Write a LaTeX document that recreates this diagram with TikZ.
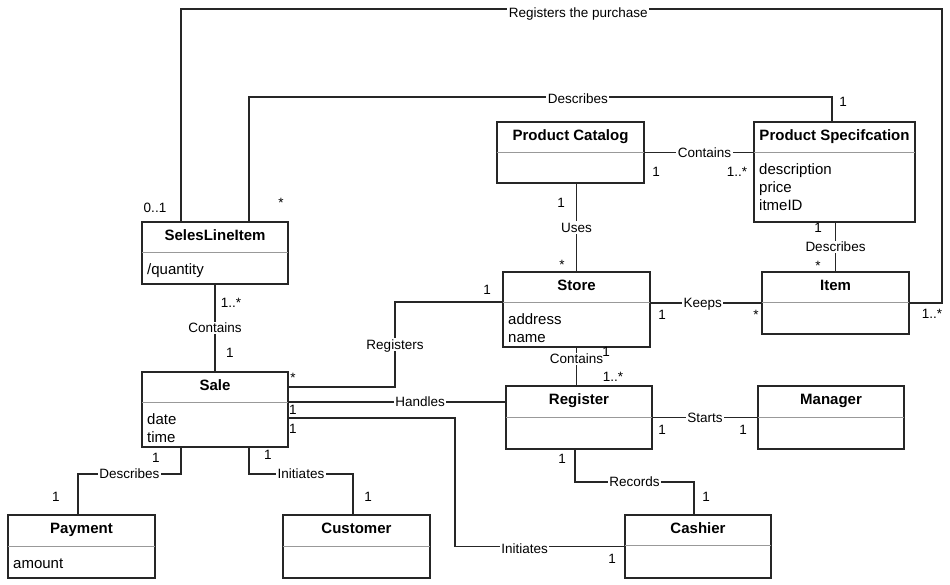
\documentclass[tikz,border=0pt]{standalone}
\usepackage{fontspec}
\setmainfont{Liberation Sans}
\begin{document}
\begin{tikzpicture}[x=1pt,y=-1pt,
  cls/.style={draw=black!85, line width=1.5pt, fill=white, inner sep=0pt, outer sep=0pt},
  ttl/.style={font=\fontsize{15}{18}\selectfont\bfseries, text height=10.7pt, text depth=0pt, inner sep=0pt},
  attr/.style={font=\fontsize{15}{18}\selectfont, anchor=west, text height=10.7pt, text depth=0pt, inner sep=0pt},
  divl/.style={draw=black!40, line width=1pt},
  conn/.style={draw=black!85, line width=1.3pt},
  lbl/.style={font=\fontsize{13.5}{16}\selectfont, fill=white, text height=9.7pt, text depth=0pt, inner sep=1.5pt},
  mult/.style={font=\fontsize{13.5}{16}\selectfont, text height=9.7pt, text depth=0pt, inner sep=0pt}]
\useasboundingbox (0,0) rectangle (950,584);
\fill[white] (0,0) rectangle (950,584);

% ---------- classes ----------
\node[cls, minimum width=146pt, minimum height=62pt] (sli) at (215,253) {};
\node[ttl] (sli-t) at (215,235.5) {SelesLineItem};
\draw[divl] ([yshift=-30pt]sli.north west) -- ([yshift=-30pt]sli.north east);
\node[attr] (sli-a1) at (147,269) {/quantity};

\node[cls, minimum width=147pt, minimum height=61pt] (pc) at (570.5,152.5) {};
\node[ttl] (pc-t) at (570.5,135.5) {Product Catalog};
\draw[divl] ([yshift=-30pt]pc.north west) -- ([yshift=-30pt]pc.north east);

\node[cls, minimum width=161pt, minimum height=100pt] (ps) at (834.5,172) {};
\node[ttl] (ps-t) at (834.5,135.5) {Product Specifcation};
\draw[divl] ([yshift=-30pt]ps.north west) -- ([yshift=-30pt]ps.north east);
\node[attr] (ps-a1) at (759,169) {description};
\node[attr] (ps-a2) at (759,187) {price};
\node[attr] (ps-a3) at (759,205) {itmeID};

\node[cls, minimum width=147pt, minimum height=75pt] (store) at (576.5,309.5) {};
\node[ttl] (store-t) at (576.5,285.5) {Store};
\draw[divl] ([yshift=-30pt]store.north west) -- ([yshift=-30pt]store.north east);
\node[attr] (store-a1) at (508,319) {address};
\node[attr] (store-a2) at (508,337) {name};

\node[cls, minimum width=147pt, minimum height=62pt] (item) at (835.5,303) {};
\node[ttl] (item-t) at (835.5,285.5) {Item};
\draw[divl] ([yshift=-30pt]item.north west) -- ([yshift=-30pt]item.north east);

\node[cls, minimum width=146pt, minimum height=75pt] (sale) at (215,409.5) {};
\node[ttl] (sale-t) at (215,385.5) {Sale};
\draw[divl] ([yshift=-30pt]sale.north west) -- ([yshift=-30pt]sale.north east);
\node[attr] (sale-a1) at (147,419) {date};
\node[attr] (sale-a2) at (147,437) {time};

\node[cls, minimum width=146pt, minimum height=63pt] (reg) at (579,417.5) {};
\node[ttl] (reg-t) at (579,399.5) {Register};
\draw[divl] ([yshift=-31pt]reg.north west) -- ([yshift=-31pt]reg.north east);

\node[cls, minimum width=146pt, minimum height=63pt] (mgr) at (831,417.5) {};
\node[ttl] (mgr-t) at (831,399.5) {Manager};
\draw[divl] ([yshift=-31pt]mgr.north west) -- ([yshift=-31pt]mgr.north east);

\node[cls, minimum width=147pt, minimum height=63pt] (pay) at (81.5,546.5) {};
\node[ttl] (pay-t) at (81.5,528.5) {Payment};
\draw[divl] ([yshift=-31pt]pay.north west) -- ([yshift=-31pt]pay.north east);
\node[attr] (pay-a1) at (13,563) {amount};

\node[cls, minimum width=147pt, minimum height=63pt] (cust) at (356.5,546.5) {};
\node[ttl] (cust-t) at (356.5,528.5) {Customer};
\draw[divl] ([yshift=-31pt]cust.north west) -- ([yshift=-31pt]cust.north east);

\node[cls, minimum width=146pt, minimum height=63pt] (cash) at (698,546.5) {};
\node[ttl] (cash-t) at (698,528.5) {Cashier};
\draw[divl] ([yshift=-30pt]cash.north west) -- ([yshift=-30pt]cash.north east);

% ---------- connectors ----------
\draw[conn] ([xshift=-34pt]sli.north) -- (181,9) -- node[lbl,pos=0.522,yshift=-4pt] (l1) {Registers the purchase} (942,9) -- (942,303) -- (item.east);
\draw[conn] ([xshift=34pt]sli.north) -- (249,97) -- node[lbl,pos=0.564,yshift=-1.5pt] (l2) {Describes} (832,97) -- ([xshift=-2.5pt]ps.north);
\draw[conn] (pc.east) -- node[lbl,pos=0.55] (l3) {Contains} (pc.east -| ps.west);
\draw[conn] (pc.south -| store.north) -- node[lbl] (l4) {Uses} (store.north);
\draw[conn] (ps.south -| item.north) -- node[lbl] (l5) {Describes} (item.north);
\draw[conn] (item.west -| store.east) -- node[lbl,pos=0.47] (l6) {Keeps} (item.west);
\draw[conn] (sli.south) -- node[lbl] (l7) {Contains} (sale.north);
\draw[conn] ([yshift=22.5pt]sale.east) -- (395,387) -- node[lbl] (l8) {Registers} (395,302) -- ([yshift=7.5pt]store.west);
\draw[conn] (store.south) -- node[lbl,pos=0.31] (l9) {Contains} (store.south |- reg.north);
\draw[conn] ([yshift=7.5pt]sale.east) -- node[lbl,pos=0.606] (l10) {Handles} ([yshift=15.5pt]reg.west);
\draw[conn] (reg.east) -- node[lbl] (l11) {Starts} (mgr.west);
\draw[conn] ([xshift=-4pt]reg.south) -- (575,482) -- node[lbl] (l12) {Records} (694,482) -- ([xshift=-4pt]cash.north);
\draw[conn] ([yshift=-8.5pt]sale.east) -- (455,418) -- (455,546.5) -- node[lbl,pos=0.41,yshift=-2pt] (l13) {Initiates} (cash.west);
\draw[conn] ([xshift=-34pt]sale.south) -- (181,474) -- node[lbl] (l14) {Describes} (78,474) -- ([xshift=-3.5pt]pay.north);
\draw[conn] ([xshift=34pt]sale.south) -- (249,474) -- node[lbl] (l15) {Initiates} (353,474) -- ([xshift=-3.5pt]cust.north);

% ---------- multiplicities ----------
\node[mult] (m1) at (155,208) {0..1};
\node[mult] (m2) at (932,314) {1..*};
\node[mult] (m3) at (843,102) {1};
\node[mult] (m4) at (281,203) {*};
\node[mult] (m5) at (656,172) {1};
\node[mult] (m6) at (737,172) {1..*};
\node[mult] (m7) at (561,203) {1};
\node[mult] (m8) at (562,265) {*};
\node[mult] (m9) at (818,228) {1};
\node[mult] (m10) at (818,266) {*};
\node[mult] (m11) at (662,315) {1};
\node[mult] (m12) at (756,315) {*};
\node[mult] (m13) at (231,303) {1..*};
\node[mult] (m14) at (230,353) {1};
\node[mult] (m15) at (293,378) {*};
\node[mult] (m16) at (487,290) {1};
\node[mult] (m17) at (606,352) {1};
\node[mult] (m18) at (613,377) {1..*};
\node[mult] (m19) at (293,410) {1};
\node[mult] (m20) at (293,429) {1};
\node[mult] (m21) at (662,430) {1};
\node[mult] (m22) at (743,430) {1};
\node[mult] (m23) at (562,459) {1};
\node[mult] (m24) at (706,497) {1};
\node[mult] (m25) at (612,559) {1};
\node[mult] (m26) at (156,458) {1};
\node[mult] (m27) at (56,497) {1};
\node[mult] (m28) at (268,455) {1};
\node[mult] (m29) at (368,497) {1};
\end{tikzpicture}
\end{document}
